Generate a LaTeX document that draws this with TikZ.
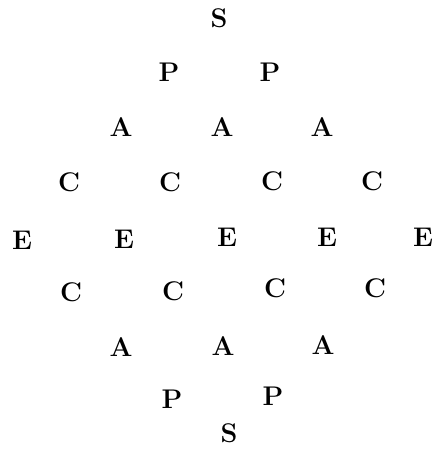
\documentclass[tikz,border=0pt]{standalone}
\usepackage{fontspec}
\setmainfont{Latin Modern Roman}
\begin{document}
\begin{tikzpicture}[x=1pt,y=-1pt,
  lt/.style={inner sep=0pt, font=\fontsize{27}{27}\selectfont\bfseries}]
\useasboundingbox (0,0) rectangle (434,450);
\node[lt] (s1) at (219,18) {S};
\node[lt] (p1) at (169,72) {P};
\node[lt] (p2) at (270,72) {P};
\node[lt] (a1) at (121,127) {A};
\node[lt] (a2) at (222,127) {A};
\node[lt] (a3) at (322,127) {A};
\node[lt] (c1) at (69,182) {C};
\node[lt] (c2) at (170,182) {C};
\node[lt] (c3) at (272,181) {C};
\node[lt] (c4) at (372,181) {C};
\node[lt] (e1) at (22,240) {E};
\node[lt] (e2) at (124,239) {E};
\node[lt] (e3) at (227,237) {E};
\node[lt] (e4) at (327,237) {E};
\node[lt] (e5) at (423,237) {E};
\node[lt] (c5) at (71,292) {C};
\node[lt] (c6) at (173,291) {C};
\node[lt] (c7) at (275,288) {C};
\node[lt] (c8) at (375,288) {C};
\node[lt] (a4) at (121,347) {A};
\node[lt] (a5) at (223,346) {A};
\node[lt] (a6) at (323,345) {A};
\node[lt] (p3) at (172,399) {P};
\node[lt] (p4) at (273,396) {P};
\node[lt] (s2) at (229,433) {S};
\end{tikzpicture}
\end{document}
